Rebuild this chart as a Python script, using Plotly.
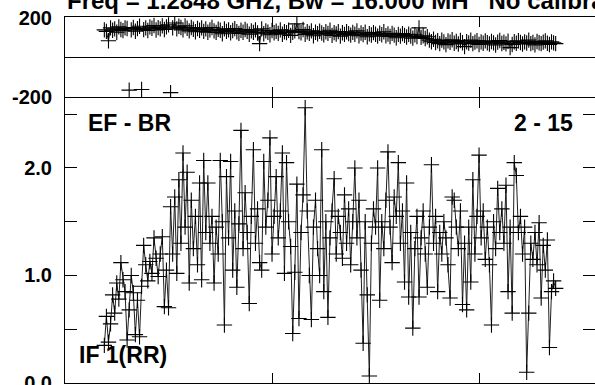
import plotly.graph_objects as go

# ---------------- data ----------------
first_channel = 19
amplitude = [
    0.35, 0.62, 0.38, 0.55, 0.82, 0.65, 0.93, 0.78, 1.12, 0.96,   # 19-28
    0.85, 0.40, 0.68, 1.00, 0.84, 0.45, 0.77, 0.43, 0.90, 1.28,   # 29-38
    1.10, 0.95, 1.13, 1.02, 1.35, 1.16, 0.99, 1.20, 1.36, 0.71,   # 39-48
    1.05, 0.70, 1.64, 1.20, 1.73, 1.02, 1.89, 1.30, 2.14, 1.45,   # 49-58
    1.96, 0.93, 1.70, 1.25, 1.55, 1.10, 1.86, 0.96, 2.07, 1.40,   # 59-68
    1.86, 1.30, 1.55, 0.93, 1.45, 1.20, 2.07, 1.50, 0.54, 1.92,   # 69-78
    1.35, 2.06, 1.05, 1.60, 0.89, 1.48, 2.35, 1.25, 1.77, 1.40,   # 79-88
    0.74, 1.55, 2.17, 1.30, 1.62, 1.12, 1.05, 2.06, 1.45, 1.70,   # 89-98
    2.28, 1.20, 1.55, 1.92, 1.35, 1.60, 2.14, 1.02, 2.05, 1.50,   # 99-108
    1.27, 0.46, 1.03, 1.85, 0.60, 1.40, 1.75, 2.56, 1.60, 1.00,   # 109-118
    0.59, 1.45, 1.70, 1.25, 1.00, 2.17, 0.85, 1.50, 0.61, 1.35,   # 119-128
    1.60, 1.90, 1.20, 1.55, 1.40, 1.16, 1.75, 1.30, 1.62, 1.10,   # 129-138
    1.50, 2.00, 1.35, 1.70, 1.05, 0.37, 1.50, 0.82, 0.065, 1.30,  # 139-148
    1.62, 1.45, 2.00, 0.77, 1.50, 1.25, 1.70, 2.15, 1.45, 1.12,   # 149-158
    1.73, 1.55, 2.05, 1.30, 1.60, 0.94, 1.86, 0.80, 1.40, 0.51,   # 159-168
    1.25, 1.55, 0.80, 1.35, 1.60, 1.20, 0.89, 1.45, 2.03, 1.30,   # 169-178
    1.55, 0.85, 1.40, 1.20, 1.50, 1.35, 1.10, 0.79, 1.73, 1.70,   # 179-188
    1.45, 1.25, 1.60, 0.73, 1.30, 0.68, 1.45, 0.94, 1.89, 1.20,   # 189-198
    1.55, 2.12, 1.35, 1.60, 1.15, 1.45, 1.10, 0.54, 1.50, 1.25,   # 199-208
    1.81, 1.40, 1.62, 1.30, 1.84, 0.85, 1.45, 0.65, 2.05, 1.93,   # 209-218
    1.40, 1.55, 1.20, 1.45, 0.10, 0.65, 1.30, 1.15, 1.40, 1.10,   # 219-228
    1.49, 0.79, 1.28, 1.05, 1.33, 0.33, 0.85, 0.95, 0.88,         # 229-237
]
phase = [
    140, 132, 85, 150, 138, 145, 128, 155, 142, 136,              # 19-28
    150, 147, -165, 140, 152, 133, 146, 158, -162, 141,           # 29-38
    150, 137, 155, 148, 162, 139, 151, 145, 160, 142,             # 39-48
    155, 165, -178, 150, 175, 145, 158, 152, 140, 160,            # 49-58
    148, 135, 152, 143, 130, 147, 138, 150, 132, 145,             # 59-68
    128, 140, 152, 135, 127, 143, 138, 120, 145, 132,             # 69-78
    140, 125, 137, 146, 130, 122, 138, 128, 142, 133,             # 79-88
    118, 135, 127, 140, 124, 70, 145, 120, 135, 128,              # 89-98
    115, 137, 125, 133, 122, 140, 118, 130, 126, 138,             # 99-108
    112, 128, 135, 170, 131, 125, 142, 117, 130, 122,             # 109-118
    135, 110, 128, 120, 133, 124, 115, 130, 122, 138,             # 119-128
    112, 126, 119, 131, 108, 125, 117, 130, 121, 113,             # 129-138
    127, 118, 135, 110, 124, 116, 128, 105, 120, 114,             # 139-148
    126, 118, 108, 123, 115, 130, 110, 119, 106, 122,             # 149-158
    113, 100, 117, 108, 121, 112, 104, 118, 109, 98,              # 159-168
    115, 106, 150, 102, 110, 96, 105, 88, 80, 92,                 # 169-178
    76, 85, 70, 88, 79, 65, 84, 77, 90, 72,                       # 179-188
    81, 68, 86, 75, 55, 80, 73, 88, 70, 78,                       # 189-198
    85, 66, 79, 72, 84, 75, 68, 81, 74, 63,                       # 199-208
    78, 86, 71, 77, 69, 82, 50, 66, 80, 72,                       # 209-218
    85, 76, 68, 79, 73, 88, 70, 76, 64, 81,                       # 219-228
    75, 70, 78, 84, 72, 66, 79, 74, 70,                           # 229-237
]
x_ticks = [100, 200]
amp_ticks = [0.0, 0.5, 1.0, 1.5, 2.0, 2.5]
amp_tick_text = ["0.0", "", "1.0", "", "2.0", ""]
phase_ticks = [-200, 200]
phase_tick_text = ["-200", "200"]
title_text = "Freq = 1.2848 GHz, Bw = 16.000 MH   No calibration applied"
baseline_label = "EF - BR"
time_label = "2 - 15"
if_label = "IF 1(RR)"

channels = list(range(first_channel, first_channel + len(amplitude)))

# break the phase line where the phase wraps
ph_x, ph_y = [], []
for i, (c, p) in enumerate(zip(channels, phase)):
    if i > 0 and abs(p - phase[i - 1]) > 180:
        ph_x.append(None)
        ph_y.append(None)
    ph_x.append(c)
    ph_y.append(p)

FONT = "Liberation Sans, Arial, sans-serif"
marker = dict(symbol="cross-thin", size=11, line=dict(width=1.1, color="black"), color="black")
linestyle = dict(color="#1e1e1e", width=1)

fig = go.Figure()
fig.add_trace(go.Scatter(x=channels, y=amplitude, mode="lines+markers", marker=marker,
                         line=linestyle, xaxis="x", yaxis="y", showlegend=False,
                         connectgaps=False))
fig.add_trace(go.Scatter(x=ph_x, y=ph_y, mode="lines+markers", marker=marker,
                         line=linestyle, xaxis="x2", yaxis="y2", showlegend=False,
                         connectgaps=False))

W, H = 595, 385
mt, mb, ml, mr = 17, 2, 65, 0
plot_h = H - mt - mb
amp_top = 285 / plot_h
phase_bottom = 286 / plot_h

xcommon = dict(range=[0, 256], tickvals=x_ticks, showticklabels=False, ticks="inside",
               ticklen=10, tickwidth=1, tickcolor="black", showline=True, linecolor="black",
               linewidth=1, mirror="ticks", showgrid=False, zeroline=False, automargin=False)
fig.update_layout(
    width=W, height=H, margin=dict(l=ml, r=mr, t=mt, b=mb, autoexpand=False),
    paper_bgcolor="white", plot_bgcolor="white",
    font=dict(family=FONT, color="black", size=20, weight="bold"),
    xaxis=dict(anchor="y", **xcommon),
    xaxis2=dict(anchor="y2", matches="x", **xcommon),
    yaxis=dict(domain=[0, amp_top], range=[0, 2.651], tickvals=amp_ticks, ticktext=amp_tick_text,
               ticks="inside", ticklen=12, tickwidth=1, tickcolor="black", showline=True,
               linecolor="black", linewidth=1, showgrid=False, zeroline=False, automargin=False,
               ticklabeloverflow="allow",
               ticklabelstandoff=8, tickfont=dict(size=20, family=FONT, weight="bold")),
    yaxis3=dict(overlaying="y", side="right", anchor="x", range=[0, 2.651], tickvals=amp_ticks,
                showticklabels=False, ticks="inside", ticklen=12, tickwidth=1, tickcolor="black",
                showline=False, showgrid=False, zeroline=False, automargin=False),
    yaxis2=dict(domain=[phase_bottom, 1], range=[-200, 205], tickvals=phase_ticks, ticktext=phase_tick_text,
                ticks="inside", ticklen=9, tickwidth=1, tickcolor="black", showline=True,
                linecolor="black", linewidth=1, showgrid=False, zeroline=True,
                zerolinecolor="black", zerolinewidth=1, automargin=False,
                ticklabeloverflow="allow",
                ticklabelstandoff=8, tickfont=dict(size=20, family=FONT, weight="bold")),
    yaxis4=dict(overlaying="y2", side="right", anchor="x2", range=[-200, 205], tickvals=phase_ticks,
                showticklabels=False, ticks="inside", ticklen=9, tickwidth=1, tickcolor="black",
                showline=False, showgrid=False, zeroline=False, automargin=False),
)
# invisible traces to activate the right-hand tick axes
fig.add_trace(go.Scatter(x=[None], y=[None], xaxis="x", yaxis="y3", showlegend=False, hoverinfo="skip"))
fig.add_trace(go.Scatter(x=[None], y=[None], xaxis="x2", yaxis="y4", showlegend=False, hoverinfo="skip"))

def px_to_paper_y(py):
    return (H - mb - py) / plot_h

def px_to_paper_x(px):
    return (px - ml) / (W - ml - mr)

annots = [
    dict(text=title_text, x=0, y=1, xanchor="left", yanchor="bottom", yshift=1, size=24),
    dict(text=baseline_label, x=px_to_paper_x(86), y=px_to_paper_y(123), xanchor="left", yanchor="middle", yshift=0, size=23),
    dict(text=time_label, x=px_to_paper_x(575), y=px_to_paper_y(123), xanchor="right", yanchor="middle", yshift=0, size=23),
    dict(text=if_label, x=px_to_paper_x(77), y=px_to_paper_y(355), xanchor="left", yanchor="middle", yshift=0, size=23),
]
for a in annots:
    fig.add_annotation(text=a["text"], xref="paper", yref="paper", x=a["x"], y=a["y"],
                       xanchor=a["xanchor"], yanchor=a["yanchor"], yshift=a["yshift"],
                       showarrow=False, font=dict(family=FONT, size=a["size"], color="black", weight="bold"))

fig.write_html("out.html", config={"displayModeBar": False, "staticPlot": True},
               post_script="document.body.style.margin='0';document.body.style.overflow='hidden';")
